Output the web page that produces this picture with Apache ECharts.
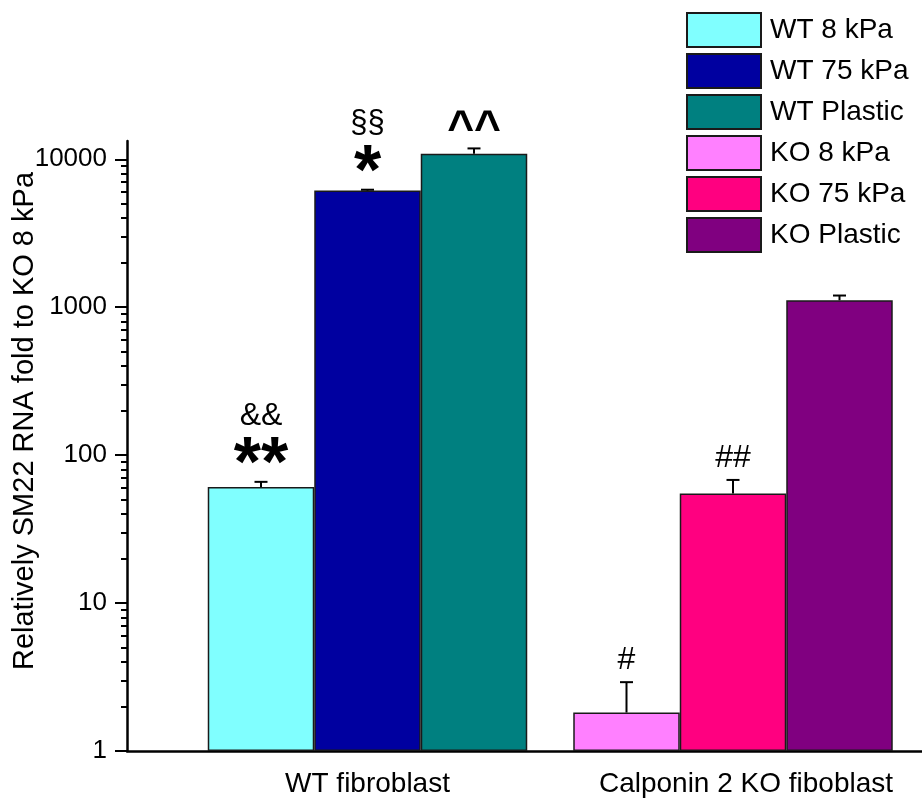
<!DOCTYPE html>
<html>
<head>
<meta charset="utf-8">
<script src="https://cdn.jsdelivr.net/npm/echarts@6/dist/echarts.min.js"></script>
<style>
  html, body { margin: 0; padding: 0; background: #fff; }
  #chart { width: 922px; height: 805px; }
</style>
</head>
<body>
<div id="chart"></div>
<script>
// Fibroblast groups on the x axis
const groups = ['WT fibroblast', 'Calponin 2 KO fiboblast'];

// One entry per bar: name, colour, mean fold change, upper error
const seriesNames = ['WT 8 kPa', 'WT 75 kPa', 'WT Plastic', 'KO 8 kPa', 'KO 75 kPa', 'KO Plastic'];
const seriesColors = ['#80FFFF', '#0000A0', '#008080', '#FF80FF', '#FF0080', '#800080'];
const meanValues = [61, 6150, 10900, 1.82, 55, 1115];
const errValues = [5, 80, 950, 1.1, 13, 85];

// Which group each bar belongs to and its slot (substrate) inside the group
const groupOf = [0, 0, 0, 1, 1, 1];
const slotOf = [0, 1, 2, 0, 1, 2];

// Significance marks printed above each bar (upper line, lower line)
const upperMarks = ['&&', '§§', '', '', '', ''];
const lowerMarks = ['**', '*', '^^', '#', '##', ''];

// Log axis ticks
const yTickValues = [1, 10, 100, 1000, 10000];
const yMinorTickValues = [2, 3, 4, 5, 6, 7, 8, 9,
  20, 30, 40, 50, 60, 70, 80, 90,
  200, 300, 400, 500, 600, 700, 800, 900,
  2000, 3000, 4000, 5000, 6000, 7000, 8000, 9000];
const yMin = 1;
const yMax = 13300;

const FONT = "'Liberation Sans', Arial, Helvetica, sans-serif";
const BAR_WIDTH = 106.5;
const AXIS_LEFT = 127;
const PLOT_LEFT = 184.75;
const PLOT_WIDTH = 731;
const PLOT_TOP = 141;
const PLOT_BOTTOM = 54;

// Glyph metrics per kind of mark: font size, weight, gap above the error cap,
// distance from text-box bottom to glyph bottom / baseline, glyph height
function markStyle(s) {
  if (s.indexOf('*') >= 0) return { size: 70, weight: 'bold', gap: 15, bottom: 0.5, height: 0.36 };
  if (s.indexOf('^') >= 0) return { size: 46, weight: 'bold', gap: 16, bottom: 0.45, height: 0.42 };
  if (s.indexOf('§') >= 0) return { size: 31, weight: 'normal', gap: 0, bottom: 0.22, height: 0.7 };
  return { size: 32, weight: 'normal', gap: 13, bottom: 0.22, height: 0.72 };
}

const chart = echarts.init(document.getElementById('chart'), null, { renderer: 'canvas' });

// WT bars live on x axis 0, KO bars on the overlapping x axis 1,
// so each group gets three side-by-side slots
const barSeries = seriesNames.map((name, i) => ({
  type: 'bar',
  name: name,
  xAxisIndex: groupOf[i],
  yAxisIndex: 0,
  barWidth: BAR_WIDTH,
  barGap: '0%',
  data: groups.map((g, gi) => (gi === groupOf[i] ? meanValues[i] : '-')),
  itemStyle: { color: seriesColors[i], borderColor: '#1a1a1a', borderWidth: 1.5 },
  emphasis: { disabled: true },
  z: 2
}));

const errorSeries = {
  type: 'custom',
  name: 'error',
  xAxisIndex: 0,
  yAxisIndex: 0,
  z: 5,
  silent: true,
  encode: { x: 0, y: 2 },
  data: seriesNames.map((n, i) => [groupOf[i], slotOf[i], meanValues[i], errValues[i]]),
  renderItem: function (params, api) {
    const i = params.dataIndex;
    const cat = api.value(0);
    const slot = api.value(1);
    const mean = api.value(2);
    const err = api.value(3);
    const base = api.coord([cat, mean]);
    const top = api.coord([cat, mean + err]);
    const x = base[0] + (slot - 1) * BAR_WIDTH;
    const stroke = { stroke: '#000', lineWidth: 2 };
    const children = [
      { type: 'line', shape: { x1: x, y1: base[1], x2: x, y2: top[1] }, style: stroke },
      { type: 'line', shape: { x1: x - 6.5, y1: top[1], x2: x + 6.5, y2: top[1] }, style: stroke }
    ];
    let glyphTop = top[1];
    const lower = lowerMarks[i];
    if (lower) {
      const st = markStyle(lower);
      const glyphBottom = top[1] - st.gap;
      children.push({
        type: 'text',
        style: {
          text: lower, x: x, y: glyphBottom + st.size * st.bottom,
          align: 'center', verticalAlign: 'bottom',
          fontSize: st.size, fontWeight: st.weight, fontFamily: FONT, fill: '#000'
        }
      });
      glyphTop = glyphBottom - st.size * st.height;
    }
    const upper = upperMarks[i];
    if (upper) {
      const st = markStyle(upper);
      const baseline = glyphTop - 17;
      children.push({
        type: 'text',
        style: {
          text: upper, x: x, y: baseline + st.size * st.bottom,
          align: 'center', verticalAlign: 'bottom',
          fontSize: st.size, fontWeight: st.weight, fontFamily: FONT, fill: '#000'
        }
      });
    }
    return { type: 'group', children: children };
  }
};

// Category labels; the long KO label sits slightly right of its group centre
const categoryData = groups.map((g, gi) => ({
  value: g,
  textStyle: gi === 1 ? { padding: [0, 0, 0, 26] } : {}
}));

const categoryAxisBase = {
  type: 'category',
  gridIndex: 0,
  data: categoryData,
  axisLine: { show: false },
  axisTick: { show: false },
  splitLine: { show: false }
};

chart.setOption({
  animation: false,
  backgroundColor: '#fff',
  textStyle: { fontFamily: FONT },
  grid: [
    { left: PLOT_LEFT, width: PLOT_WIDTH, top: PLOT_TOP, bottom: PLOT_BOTTOM, containLabel: false, outerBoundsMode: 'none' },
    { left: AXIS_LEFT, right: 0, top: PLOT_TOP, bottom: PLOT_BOTTOM, containLabel: false, outerBoundsMode: 'none' }
  ],
  legend: {
    orient: 'vertical',
    left: 686,
    top: 12,
    padding: 0,
    itemWidth: 74,
    itemHeight: 34,
    itemGap: 5,
    icon: 'rect',
    selectedMode: false,
    data: seriesNames,
    textStyle: { fontSize: 28, color: '#000', fontFamily: FONT, padding: [0, 0, 0, 4] }
  },
  xAxis: [
    Object.assign({}, categoryAxisBase, {
      axisLabel: { interval: 0, fontSize: 28, color: '#000', margin: 19, fontFamily: FONT }
    }),
    Object.assign({}, categoryAxisBase, {
      axisLabel: { show: false }
    }),
    {
      type: 'value',
      gridIndex: 1,
      min: 0,
      max: 1,
      axisLine: { show: true, onZero: false, lineStyle: { color: '#000', width: 2.5 } },
      axisTick: { show: false },
      axisLabel: { show: false },
      splitLine: { show: false }
    }
  ],
  yAxis: [
    {
      type: 'log',
      logBase: 10,
      gridIndex: 0,
      min: yMin,
      max: yMax,
      position: 'left',
      offset: PLOT_LEFT - AXIS_LEFT,
      axisLine: { show: true, lineStyle: { color: '#000', width: 2.5 } },
      axisTick: { show: true, length: 12, lineStyle: { color: '#000', width: 2 }, customValues: yTickValues },
      axisLabel: {
        customValues: yTickValues, fontSize: 26, color: '#000', margin: 20, fontFamily: FONT,
        formatter: v => String(Math.round(v))
      },
      splitLine: { show: false },
      name: 'Relatively SM22 RNA fold to KO 8 kPa',
      nameLocation: 'middle',
      nameGap: 88,
      nameMoveOverlap: false,
      nameTextStyle: { fontSize: 29, color: '#000', fontFamily: FONT, padding: [0, 0, 0, 50] }
    },
    {
      type: 'log',
      logBase: 10,
      gridIndex: 0,
      min: yMin,
      max: yMax,
      position: 'left',
      offset: PLOT_LEFT - AXIS_LEFT,
      axisLine: { show: false },
      axisTick: { show: true, length: 6, lineStyle: { color: '#000', width: 2 }, customValues: yMinorTickValues },
      axisLabel: { show: false },
      splitLine: { show: false }
    },
    {
      type: 'value',
      gridIndex: 1,
      show: false
    }
  ],
  series: barSeries.concat([errorSeries])
});
</script>
</body>
</html>
